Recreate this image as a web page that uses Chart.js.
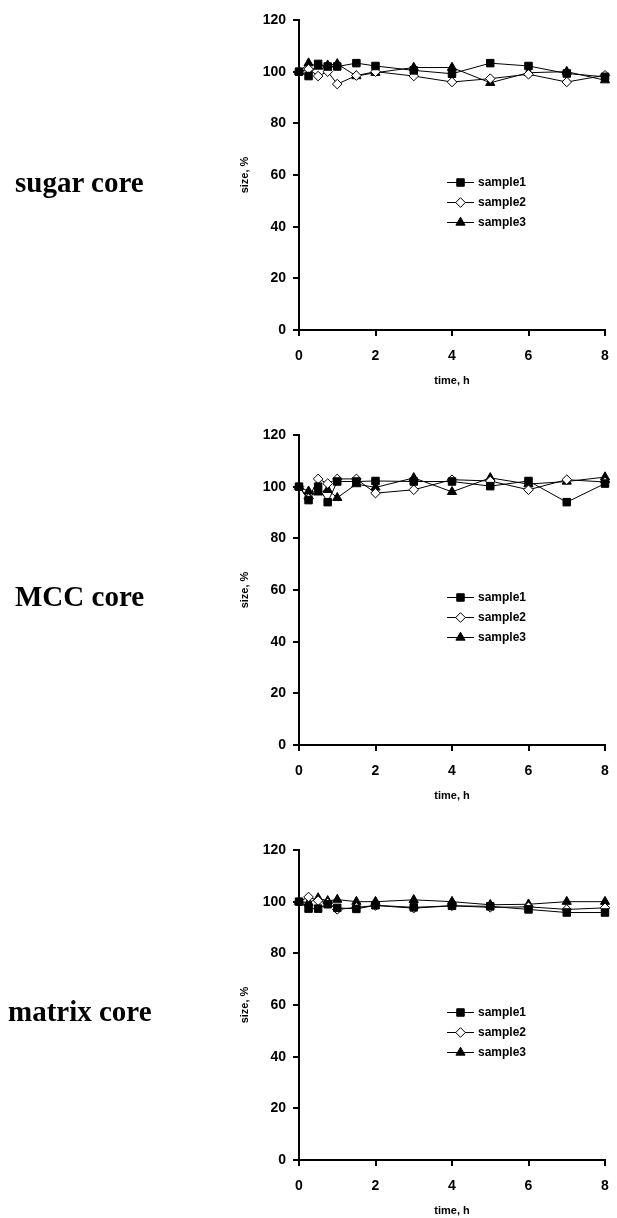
<!DOCTYPE html>
<html>
<head>
<meta charset="utf-8">
<script src="https://cdn.jsdelivr.net/npm/chart.js@4.4.0/dist/chart.umd.min.js"></script>
<style>
  html, body { margin: 0; padding: 0; background: #fff; }
  body { width: 617px; height: 1218px; position: relative; overflow: hidden; }
  .panel { position: absolute; left: 0; width: 617px; height: 388px; }
  .panel canvas { position: absolute; left: 0; top: 0; }
  .core {
    position: absolute; font-family: "Liberation Serif", "Times New Roman", serif;
    font-weight: bold; font-size: 29px; line-height: 29px; color: #000; white-space: nowrap;
  }
</style>
</head>
<body>
<div class="panel" style="top:0px"><canvas id="c1" width="617" height="388"></canvas></div>
<div class="panel" style="top:415px"><canvas id="c2" width="617" height="388"></canvas></div>
<div class="panel" style="top:830px"><canvas id="c3" width="617" height="388"></canvas></div>
<div class="core" style="left:15px; top:168px">sugar core</div>
<div class="core" style="left:15px; top:582px">MCC core</div>
<div class="core" style="left:8px; top:997px">matrix core</div>
<script>
const times = [0, 0.25, 0.5, 0.75, 1, 1.5, 2, 3, 4, 5, 6, 7, 8];
const seriesNames = ['sample1', 'sample2', 'sample3'];

// sugar core
const sugar1 = [100, 98.3, 103, 102, 102, 103.3, 102.2, 100.5, 99.2, 103.3, 102.2, 99.3, 98];
const sugar2 = [100, 101, 98.3, 100, 95.2, 98.5, 100, 98.3, 96, 97.3, 99, 96, 98.6];
const sugar3 = [100, 103.3, 102, 102.5, 103, 98.3, 99.6, 101.6, 101.6, 95.7, 99.6, 100, 96.7];

// MCC core
const mcc1 = [100, 94.8, 100, 94, 102, 102, 102.2, 102, 102, 100.2, 102.2, 94, 101.2];
const mcc2 = [100, 95.4, 103, 101.2, 103, 103, 97.5, 98.8, 102.7, 102.2, 98.8, 102.7, 101.8];
const mcc3 = [100, 98.2, 97.8, 98.8, 95.7, 101, 99.7, 103.4, 98, 103.4, 101, 102, 103.7];

// matrix core
const matrix1 = [100, 97.3, 97.3, 99, 97.6, 97.2, 98.6, 97.8, 98.4, 98.2, 97, 95.8, 95.8];
const matrix2 = [100, 101.8, 100.4, 99.5, 97, 97.8, 98.5, 97.5, 98.4, 97.8, 98, 97, 97.6];
const matrix3 = [100, 99.6, 101.4, 100.3, 100.8, 100, 100, 100.7, 100, 98.8, 99, 100, 100];

const xTicks = [0, 2, 4, 6, 8];
const yTicks = [0, 20, 40, 60, 80, 100, 120];

const styles = [
  { pointStyle: 'rect', pointRadius: 5.3, pointBackgroundColor: '#000' },
  { pointStyle: 'rectRot', pointRadius: 4.8, pointBackgroundColor: '#fff' },
  { pointStyle: 'triangle', pointRadius: 5.3, pointBackgroundColor: '#000' },
];

// little legend inside the plot, line with marker then label
const insideLegend = {
  id: 'insideLegend',
  afterDraw(chart) {
    const { ctx, chartArea } = chart;
    const x0 = chartArea.left + 148;
    const y0 = chartArea.top + 162;
    chart.data.datasets.forEach((ds, i) => {
      const y = y0 + i * 20;
      ctx.save();
      ctx.strokeStyle = '#000';
      ctx.lineWidth = 1;
      ctx.beginPath();
      ctx.moveTo(x0, y + 0.5);
      ctx.lineTo(x0 + 27, y + 0.5);
      ctx.stroke();
      ctx.fillStyle = ds.pointBackgroundColor;
      Chart.helpers.drawPoint(ctx, {
        pointStyle: ds.pointStyle, radius: ds.pointRadius, rotation: 0, borderWidth: 1,
      }, x0 + 13.5, y + 0.5);
      ctx.fillStyle = '#000';
      ctx.font = 'bold 12px "Liberation Sans", Arial, sans-serif';
      ctx.textBaseline = 'middle';
      ctx.textAlign = 'left';
      ctx.fillText(ds.label, x0 + 31, y + 1);
      ctx.restore();
    });
  },
};

const tickFont = { family: '"Liberation Sans", Arial, sans-serif', size: 14, weight: 'bold' };
const titleFont = { family: '"Liberation Sans", Arial, sans-serif', size: 11, weight: 'bold' };

function makeChart(id, values) {
  return new Chart(document.getElementById(id), {
    type: 'line',
    plugins: [insideLegend],
    data: {
      datasets: values.map((vals, i) => ({
        label: seriesNames[i],
        data: times.map((t, k) => ({ x: t, y: vals[k] })),
        borderColor: '#000',
        borderWidth: 1,
        pointBorderColor: '#000',
        pointBorderWidth: 1,
        clip: false,
        ...styles[i],
      })),
    },
    options: {
      responsive: false,
      animation: false,
      layout: {
        autoPadding: false,
        padding: { top: 20, left: 238, right: 12, bottom: 0 },
      },
      scales: {
        x: {
          type: 'linear',
          min: 0,
          max: 8,
          afterBuildTicks: (scale) => { scale.ticks = xTicks.map(v => ({ value: v })); },
          afterFit: (scale) => {
            scale.height = 58;
            scale.paddingLeft = 0;
            scale.paddingRight = 0;
          },
          border: { display: true, color: '#000', width: 2 },
          grid: { display: true, drawOnChartArea: false, drawTicks: true, tickLength: 6, color: '#000', lineWidth: 2 },
          ticks: { color: '#000', font: tickFont, padding: 12, maxRotation: 0 },
          title: { display: true, text: 'time, h', color: '#000', font: titleFont, padding: { top: 0, bottom: 0 } },
        },
        y: {
          min: 0,
          max: 120,
          afterBuildTicks: (scale) => { scale.ticks = yTicks.map(v => ({ value: v })); },
          afterFit: (scale) => {
            scale.width = 61;
            scale.paddingTop = 0;
            scale.paddingBottom = 0;
          },
          border: { display: true, color: '#000', width: 2 },
          grid: { display: true, drawOnChartArea: false, drawTicks: true, tickLength: 6, color: '#000', lineWidth: 2 },
          ticks: { color: '#000', font: tickFont, padding: 7 },
          title: { display: true, text: 'size, %', color: '#000', font: titleFont, padding: { top: 0, bottom: 0 } },
        },
      },
      plugins: {
        legend: { display: false },
        tooltip: { enabled: false },
      },
    },
  });
}

makeChart('c1', [sugar1, sugar2, sugar3]);
makeChart('c2', [mcc1, mcc2, mcc3]);
makeChart('c3', [matrix1, matrix2, matrix3]);
</script>
</body>
</html>
